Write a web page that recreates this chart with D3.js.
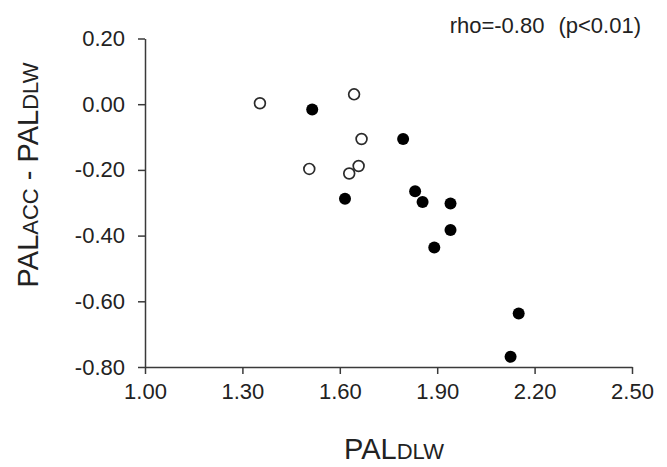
<!DOCTYPE html>
<html>
<head>
<meta charset="utf-8">
<script src="https://cdn.jsdelivr.net/npm/d3@7"></script>
<style>
  body { margin: 0; background: #fff; }
  svg { font-family: "Liberation Sans", Arial, sans-serif; }
</style>
</head>
<body>
<div id="chart"></div>
<script>
// values
var openX   = [1.354, 1.644, 1.667, 1.506, 1.629, 1.658];
var openY   = [0.003, 0.030, -0.106, -0.197, -0.211, -0.188];
var filledX = [1.515, 1.795, 1.616, 1.832, 1.855, 1.941, 1.941, 1.891, 2.151, 2.126];
var filledY = [-0.016, -0.106, -0.288, -0.265, -0.298, -0.302, -0.383, -0.436, -0.637, -0.769];
var xTicks  = [1.00, 1.30, 1.60, 1.90, 2.20, 2.50];
var yTicks  = [0.20, 0.00, -0.20, -0.40, -0.60, -0.80];
var statParts = ["rho=-0.80", "(p<0.01)"];

var w = 667, h = 467;
var svg = d3.select("#chart").append("svg").attr("width", w).attr("height", h);

var x = d3.scaleLinear().domain([1.0, 2.5]).range([145, 632]);
var y = d3.scaleLinear().domain([-0.8, 0.2]).range([367, 38.5]);
var axisColor = "#3a3a3a", textColor = "#222";

var fmt = function(d) { return d.toFixed(2); };

var gx = svg.append("g").attr("transform", "translate(0," + y(-0.8) + ")")
    .call(d3.axisBottom(x).tickValues(xTicks).tickFormat(fmt).tickSize(7).tickSizeOuter(0).tickPadding(9));
var gy = svg.append("g").attr("transform", "translate(" + x(1.0) + ",0)")
    .call(d3.axisLeft(y).tickValues(yTicks).tickFormat(fmt).tickSize(7).tickSizeOuter(0).tickPadding(13));

[gx, gy].forEach(function(g) {
    g.select(".domain").attr("stroke", axisColor).attr("stroke-width", 1.5);
    g.selectAll(".tick line").attr("stroke", axisColor).attr("stroke-width", 1.5);
    g.selectAll(".tick text").attr("fill", textColor).style("font-size", "22px");
});

// points
var openPts = openX.map(function(v, i) { return { x: v, y: openY[i] }; });
var filledPts = filledX.map(function(v, i) { return { x: v, y: filledY[i] }; });

svg.append("g").selectAll("circle").data(openPts).enter().append("circle")
    .attr("cx", d => x(d.x)).attr("cy", d => y(d.y)).attr("r", 5.4)
    .attr("fill", "#fff").attr("stroke", "#2a2a2a").attr("stroke-width", 1.7);

svg.append("g").selectAll("circle").data(filledPts).enter().append("circle")
    .attr("cx", d => x(d.x)).attr("cy", d => y(d.y)).attr("r", 6)
    .attr("fill", "#000");

// stat label
var st = svg.append("text").attr("x", 641).attr("y", 33).attr("text-anchor", "end")
    .attr("fill", textColor).style("font-size", "22px");
st.append("tspan").text(statParts[0]);
st.append("tspan").attr("dx", 14).text(statParts[1]);

// axis titles
var xt = svg.append("text").attr("x", 394).attr("y", 459).attr("text-anchor", "middle")
    .attr("fill", textColor).style("font-size", "29px");
xt.append("tspan").text("PAL");
xt.append("tspan").style("font-size", "22px").text("DLW");

var yt = svg.append("text").attr("transform", "translate(38,175) rotate(-90)")
    .attr("text-anchor", "middle").attr("fill", textColor).style("font-size", "29px");
yt.append("tspan").text("PAL");
yt.append("tspan").style("font-size", "22px").text("ACC");
yt.append("tspan").text(" - PAL");
yt.append("tspan").style("font-size", "22px").text("DLW");
</script>
</body>
</html>
